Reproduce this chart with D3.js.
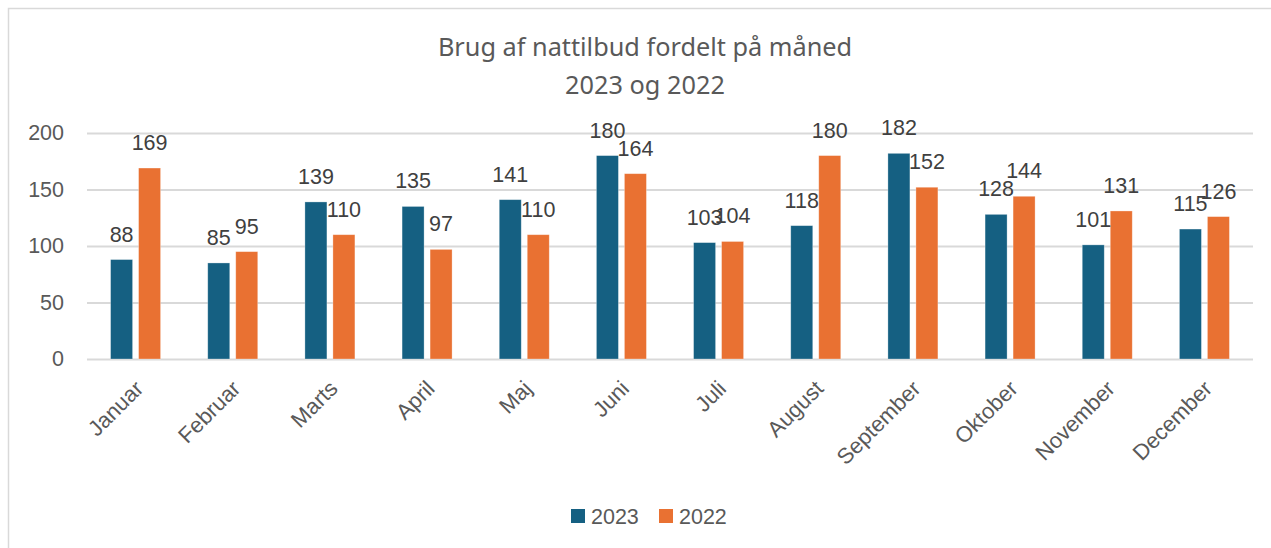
<!DOCTYPE html>
<html>
<head>
<meta charset="utf-8">
<script src="https://cdn.jsdelivr.net/npm/d3@7"></script>
<style>
  html, body { margin: 0; padding: 0; background: #fff; }
  svg { display: block; }
</style>
</head>
<body>
<div id="vis"></div>
<script>
// chart data
const months = ["Januar", "Februar", "Marts", "April", "Maj", "Juni", "Juli",
  "August", "September", "Oktober", "November", "December"];
const series = ["2023", "2022"];
const values2023 = [88, 85, 139, 135, 141, 180, 103, 118, 182, 128, 101, 115];
const values2022 = [169, 95, 110, 97, 110, 164, 104, 180, 152, 144, 131, 126];
const yTicks = [0, 50, 100, 150, 200];
const titleLines = ["Brug af nattilbud fordelt på måned", "2023 og 2022"];

const colors = { "2023": "#156082", "2022": "#E97132" };
const textColor = "#595959";
const gridColor = "#D9D9D9";
const font = "'Liberation Sans', Arial, sans-serif";

const W = 1271, H = 548;
const margin = { top: 133, right: 18, bottom: 189, left: 87 };

const rows = months.map((m, i) => ({ month: m, "2023": values2023[i], "2022": values2022[i] }));

const svg = d3.select("#vis").append("svg")
  .attr("width", W).attr("height", H);

// chart border
svg.append("rect")
  .attr("x", 8.5).attr("y", 8.5)
  .attr("width", W + 20).attr("height", H + 20)
  .attr("fill", "#fff").attr("stroke", gridColor).attr("stroke-width", 1.5);

// scales
const x0 = d3.scaleBand().domain(months).range([margin.left, W - margin.right]);
const groupW = 50;
const x1 = d3.scaleBand().domain(series).range([0, groupW]).paddingInner(6 / 28);
const y = d3.scaleLinear().domain([0, 200]).range([H - margin.bottom, margin.top]);

// title
svg.append("text")
  .attr("x", 645).attr("text-anchor", "middle")
  .attr("font-family", "'Noto Sans', 'Open Sans', sans-serif")
  .attr("font-size", 25.3).attr("fill", textColor)
  .selectAll("tspan").data(titleLines).join("tspan")
  .attr("x", 645)
  .attr("y", (d, i) => 56 + i * 38)
  .text(d => d);

// gridlines + y labels
const yAxis = svg.append("g")
  .attr("transform", `translate(${margin.left},0)`)
  .call(d3.axisLeft(y).tickValues(yTicks).tickSize(-(W - margin.left - margin.right)).tickPadding(23));
yAxis.select(".domain").remove();
yAxis.selectAll("line").attr("stroke", gridColor).attr("stroke-width", 2);
yAxis.selectAll("text").attr("fill", textColor).attr("font-family", font).attr("font-size", 21.5);

// bars
const groups = svg.append("g").selectAll("g").data(rows).join("g")
  .attr("transform", d => `translate(${x0(d.month) + x0.bandwidth() / 2 - groupW / 2},0)`);

groups.selectAll("rect")
  .data(d => series.map(s => ({ key: s, value: d[s] })))
  .join("rect")
  .attr("x", d => x1(d.key))
  .attr("y", d => y(d.value))
  .attr("width", x1.bandwidth())
  .attr("height", d => y(0) - y(d.value))
  .attr("fill", d => colors[d.key])
  .attr("stroke", "#fff").attr("stroke-opacity", 0.4).attr("stroke-width", 0.75);

// data labels
groups.selectAll("text")
  .data(d => series.map(s => ({ key: s, value: d[s] })))
  .join("text")
  .attr("x", d => x1(d.key) + x1.bandwidth() / 2)
  .attr("y", d => y(d.value) - 18)
  .attr("text-anchor", "middle")
  .attr("font-family", font).attr("font-size", 21.5)
  .attr("fill", "#404040")
  .text(d => d.value);

// x labels, rotated
svg.append("g").selectAll("text").data(months).join("text")
  .attr("transform", d => `translate(${x0(d) + x0.bandwidth() / 2 + 9},${H - margin.bottom + 31}) rotate(-45)`)
  .attr("text-anchor", "end")
  .attr("font-family", font).attr("font-size", 22)
  .attr("fill", textColor)
  .text(d => d);

// legend
const legendX = [571, 659];
const legend = svg.append("g").selectAll("g").data(series).join("g")
  .attr("transform", (d, i) => `translate(${legendX[i]},509)`);
legend.append("rect").attr("width", 14).attr("height", 14).attr("fill", d => colors[d]);
legend.append("text")
  .attr("x", 20).attr("y", 7).attr("dy", "0.35em")
  .attr("font-family", font).attr("font-size", 21.5)
  .attr("fill", textColor)
  .text(d => d);
</script>
</body>
</html>
